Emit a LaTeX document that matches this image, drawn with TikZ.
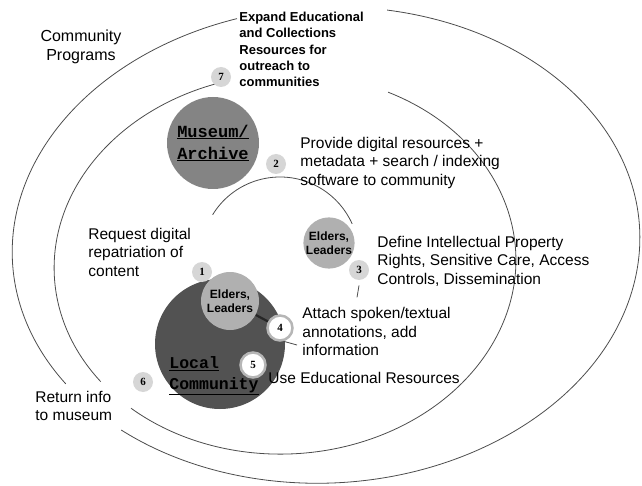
\documentclass[tikz,border=0pt]{standalone}
\usepackage{fontspec}
\setmainfont{Liberation Sans}
\setmonofont{Liberation Mono}
\newfontfamily\numfont{Liberation Serif}
\usepackage{tikz}
\definecolor{museum}{RGB}{132,132,132}
\definecolor{local}{RGB}{82,82,82}
\definecolor{elders}{RGB}{176,176,176}
\definecolor{bdg}{RGB}{214,214,214}

\begin{document}
\begin{tikzpicture}[x=1pt, y=-1pt, line width=0.8pt,
  ring/.style={draw=black!70},
  lbl/.style={anchor=west, align=left, inner sep=0pt, font=\fontsize{15.5}{18.5}\selectfont},
  numdot/.style={circle, fill=bdg, inner sep=0pt, minimum size=20pt, font=\numfont\bfseries\fontsize{11}{11}\selectfont},
  bignum/.style={numdot, fill=white, draw=bdg!85!black, line width=2.5pt, minimum size=25pt},
  eldtxt/.style={align=center, inner sep=0pt, font=\bfseries\fontsize{12}{14}\selectfont},
  monotxt/.style={align=left, inner sep=0pt, font=\ttfamily\bfseries\fontsize{16.5}{21}\selectfont}]
\useasboundingbox (0,0) rectangle (642,486);

% outer ring: community programs
\coordinate (outc) at (326,245);
\begin{scope}[rotate around={3:(outc)}]
\draw [ring] (outc) ++(-76.5:314 and 238) arc [start angle=-76.5, end angle=133, x radius=314, y radius=238];
\draw [ring] (outc) ++(148.3:314 and 238) arc [start angle=148.3, end angle=255.8, x radius=314, y radius=238];
\end{scope}

% middle ring
\coordinate (midc) at (285,264);
\begin{scope}[rotate around={3:(midc)}]
\draw [ring] (midc) ++(-61:231 and 190) arc [start angle=-61, end angle=134.3, x radius=231, y radius=190];
\draw [ring] (midc) ++(145.4:231 and 190) arc [start angle=145.4, end angle=257.3, x radius=231, y radius=190];
\end{scope}

% inner loop
\coordinate (innc) at (280,256);
\draw [ring] (innc) ++(211.5:79) arc [start angle=211.5, end angle=336, radius=79];

% circles
\node (mus) at (213,143) [circle, fill=museum, minimum size=92pt, inner sep=0pt, monotxt, align=center, font=\ttfamily\bfseries\fontsize{17}{22}\selectfont] {\underline{Museum/}\\\underline{Archive}};
\node (loc) at (220,344) [circle, fill=local, minimum size=130pt] {};
\node (eldl) at (230,301) [circle, fill=elders, minimum size=58pt, eldtxt] {Elders,\\Leaders};
\node (eldr) at (329,243) [circle, fill=elders, minimum size=50pt, eldtxt] {Elders,\\Leaders};
\node (loctxt) at (169,376) [anchor=west, monotxt] {\underline{Local}\\\underline{Community}};

% numbered steps
\node (b1) at (202,272) [numdot] {1};
\node (b2) at (276,164) [numdot] {2};
\node (b3) at (359,270) [numdot] {3};
\node (b4) at (280,328) [bignum] {4};
\node (b5) at (253,365) [bignum] {5};
\node (b6) at (143,382) [numdot] {6};
\node (b7) at (221,77) [numdot] {7};

\draw [line width=2.2pt, black!85] (eldl) -- (b4);
\coordinate (annot) at (297,345);
\draw [ring] (b4.-75) -- (annot);
\draw [ring] ([yshift=-5pt]b3.south) -- ++(-2,12);

% labels
\node (prog) at (81,46.5) [align=center, inner sep=0pt, font=\fontsize{16}{19}\selectfont] {Community\\Programs};
\node (expand) at (239,49.5) [anchor=west, align=left, inner sep=0pt, font=\bfseries\fontsize{13}{16.3}\selectfont] {Expand Educational\\and Collections\\Resources for\\outreach to\\communities};
\node (prov) at (300,162.5) [lbl] {Provide digital resources +\\metadata + search / indexing\\software to community};
\node (req) at (88,252) [lbl] {Request digital\\repatriation of\\content};
\node (defn) at (377,261) [lbl] {Define Intellectual Property\\Rights, Sensitive Care, Access\\Controls, Dissemination};
\node (attach) at (302,331.5) [lbl] {Attach spoken/textual\\annotations, add\\information};
\node (useed) at (268,378) [lbl] {Use Educational Resources};
\node (ret) at (35,406) [lbl] {Return info\\to museum};
\end{tikzpicture}
\end{document}
